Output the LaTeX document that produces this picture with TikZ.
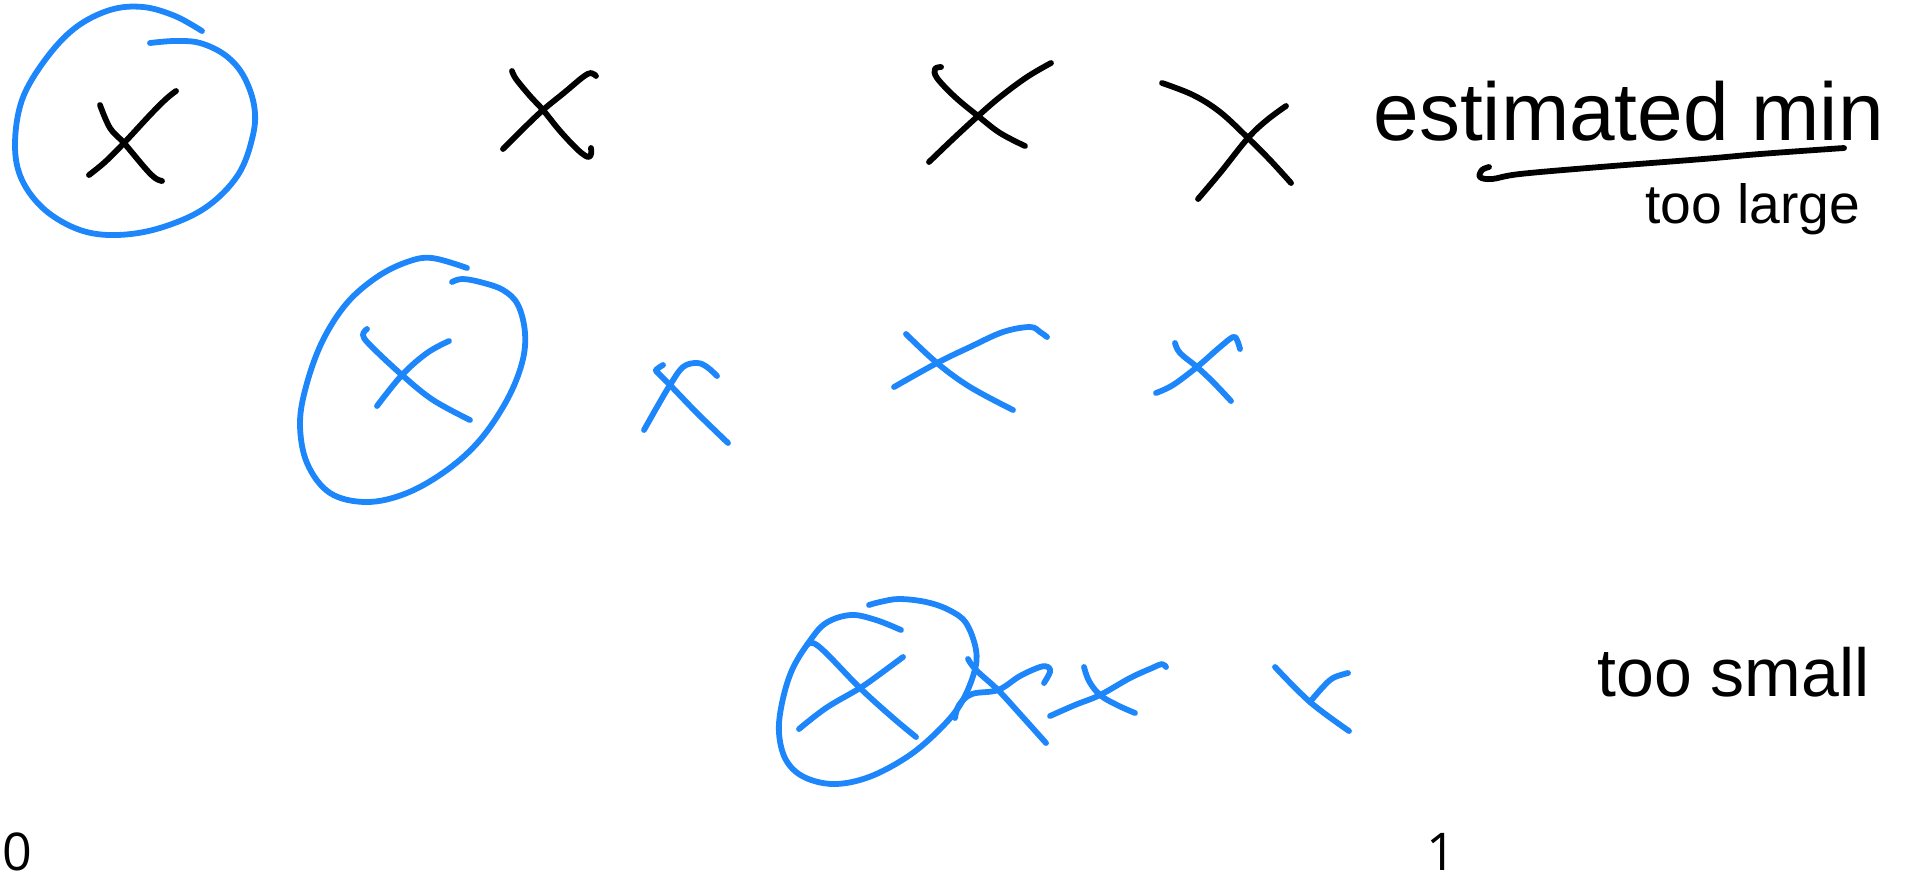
\documentclass[tikz,border=0pt]{standalone}
\usepackage{fontspec}
\setmainfont{Liberation Sans}
\newfontfamily\numfont{Open Sans}
\definecolor{penblue}{RGB}{28,134,250}
\tikzset{
  ink/.style={line width=2.9pt, line cap=round, line join=round},
  inkblack/.style={ink, draw=black},
  inkblue/.style={ink, draw=penblue},
  hand/.style={inner sep=0pt, text=black},
  axislabel/.style={inner sep=0pt, anchor=base, font=\numfont\fontsize{26}{30}\selectfont}
}
\begin{document}
\begin{tikzpicture}[x=0.5pt, y=-0.5pt]
\useasboundingbox (0,0) rectangle (1909,879);
% ---------- row 1 (black crosses) ----------
% circled first cross
\draw[inkblue] plot[smooth, tension=0.6] coordinates {(202,31) (175,16) (143,7) (110,10) (75,28) (45,60) (22,100) (15,145) (22,180) (45,210) (80,230) (117,235) (160,228) (205,208) (238,175) (253,135) (254,105) (243,75) (225,55) (200,43) (175,41) (150,43)};
\draw[inkblack] plot[smooth, tension=0.6] coordinates {(100,105) (110,128) (124,143) (145,168) (155,178) (162,181)};
\draw[inkblack] plot[smooth, tension=0.6] coordinates {(176,91) (166,99) (150,115) (124,143) (105,162) (89,175)};
% cross 2
\draw[inkblack] plot[smooth, tension=0.6] coordinates {(512,71) (516,79) (530,96) (543,110) (560,131) (578,150) (588,157) (591,154) (591,148)};
\draw[inkblack] plot[smooth, tension=0.6] coordinates {(596,76) (591,73) (583,77) (565,92) (543,110) (523,129) (503,149)};
% cross 3
\draw[inkblack] plot[smooth, tension=0.6] coordinates {(941,67) (935,69) (937,78) (955,97) (978,116) (1000,133) (1025,146)};
\draw[inkblack] plot[smooth, tension=0.6] coordinates {(1051,63) (1027,77) (1000,97) (978,116) (953,139) (929,162)};
% cross 4
\draw[inkblack] plot[smooth, tension=0.6] coordinates {(1162,83) (1193,95) (1220,112) (1248,138) (1270,160) (1291,183)};
\draw[inkblack] plot[smooth, tension=0.6] coordinates {(1286,106) (1267,120) (1248,138) (1220,173) (1198,199)};
% handwritten label and its underline
\node[hand, font=\fontsize{41}{44}\selectfont, anchor=base west] (estmin) at (1373,140) {estimated min};
\draw[inkblack] plot[smooth, tension=0.6] coordinates {(1844,148) (1760,154) (1703,159) (1600,167) (1520,174) (1492,179) (1480,177) (1482,170) (1489,167)};
\node[hand, font=\fontsize{27.6}{30}\selectfont, anchor=base west] (toolarge) at (1645,223) {too large};
% ---------- row 2 (blue crosses) ----------
\draw[inkblue] plot[smooth, tension=0.6] coordinates {(467,268) (432,258) (407,262) (377,277) (347,303) (323,340) (307,383) (300,423) (307,463) (330,493) (367,502) (407,493) (447,470) (480,440) (507,400) (522,363) (525,333) (518,305) (503,290) (480,282) (462,279) (452,282)};
\draw[inkblue] plot[smooth, tension=0.6] coordinates {(367,329) (363,335) (370,345) (402,375) (433,400) (470,420)};
\draw[inkblue] plot[smooth, tension=0.6] coordinates {(449,341) (427,353) (402,375) (377,406)};
% cross 5
\draw[inkblue] plot[smooth, tension=0.6] coordinates {(663,365) (656,370) (658,373) (670,385) (697,413) (728,443)};
\draw[inkblue] plot[smooth, tension=0.6] coordinates {(644,430) (657,407) (670,385) (683,367) (697,363) (707,367) (717,376)};
% cross 6
\draw[inkblue] plot[smooth, tension=0.6] coordinates {(906,334) (937,363) (970,387) (1013,410)};
\draw[inkblue] plot[smooth, tension=0.6] coordinates {(894,387) (937,363) (970,347) (1003,332) (1030,327) (1040,332) (1047,337)};
% cross 7
\draw[inkblue] plot[smooth, tension=0.6] coordinates {(1175,343) (1180,353) (1197,367) (1213,382) (1231,401)};
\draw[inkblue] plot[smooth, tension=0.6] coordinates {(1156,393) (1173,385) (1197,367) (1220,347) (1233,337) (1237,340) (1240,349)};
% ---------- row 3 (blue crosses) ----------
\draw[inkblue] plot[smooth, tension=0.6] coordinates {(901,630) (876,620) (851,615) (826,623) (809,642) (792,670) (782,703) (779,733) (786,760) (804,777) (834,784) (869,777) (907,757) (937,732) (960,705) (974,673) (976,650) (966,623) (949,610) (926,602) (899,599) (880,602) (869,605)};
\draw[inkblue] plot[smooth, tension=0.6] coordinates {(807,645) (813,643) (826,653) (860,688) (892,717) (916,737)};
\draw[inkblue] plot[smooth, tension=0.6] coordinates {(903,657) (880,674) (860,688) (826,708) (799,729)};
% cross 9
\draw[inkblue] plot[smooth, tension=0.6] coordinates {(968,659) (976,670) (998,690) (1020,714) (1046,743)};
\draw[inkblue] plot[smooth, tension=0.6] coordinates {(955,718) (959,705) (972,694) (998,690) (1020,676) (1040,667) (1048,667) (1050,672) (1044,683)};
% cross 10
\draw[inkblue] plot[smooth, tension=0.6] coordinates {(1084,667) (1089,681) (1100,695) (1117,705) (1135,713)};
\draw[inkblue] plot[smooth, tension=0.6] coordinates {(1050,716) (1075,705) (1100,695) (1130,678) (1152,668) (1162,664) (1166,667)};
% cross 11
\draw[inkblue] plot[smooth, tension=0.6] coordinates {(1275,667) (1310,702) (1349,731)};
\draw[inkblue] plot[smooth, tension=0.6] coordinates {(1348,673) (1333,678) (1322,688) (1310,702)};
\node[hand, font=\fontsize{34}{38}\selectfont, anchor=base west] (toosmall) at (1597,696) {too small};
% ---------- axis end labels ----------
\node[axislabel] (zero) at (17,870) {0};
\node[axislabel] (one) at (1441,870) {1};
\end{tikzpicture}
\end{document}
